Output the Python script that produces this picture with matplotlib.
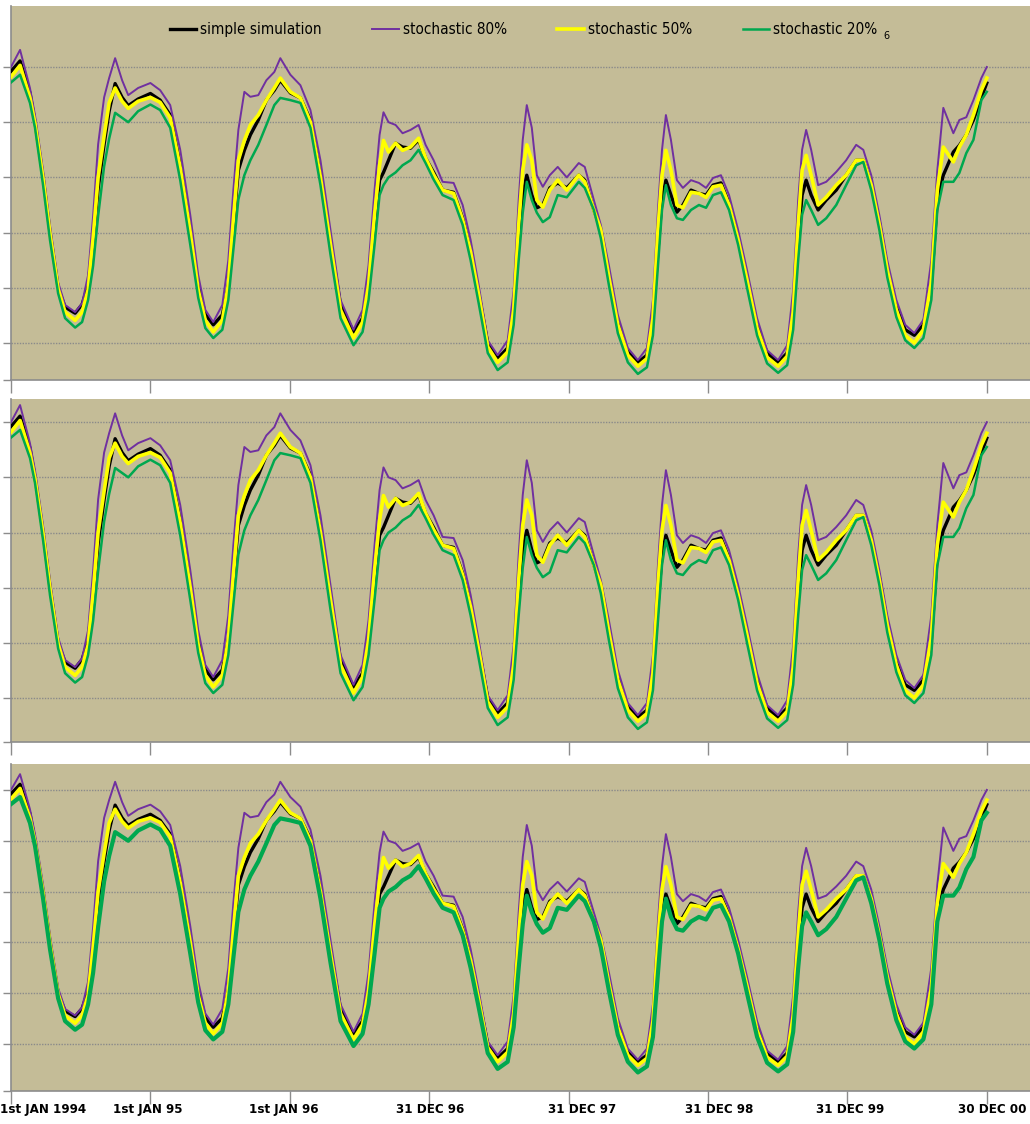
import matplotlib.pyplot as plt
import numpy as np

# time axis: years since 1 Jan 1994
t = [0.000, 0.065, 0.136, 0.172, 0.230, 0.280, 0.338, 0.388, 0.460, 0.510,
     0.553, 0.589, 0.625, 0.668, 0.704, 0.747, 0.797, 0.841, 0.912, 1.000,
     1.070, 1.142, 1.214, 1.286, 1.343, 1.394, 1.451, 1.516, 1.559, 1.595,
     1.631, 1.674, 1.717, 1.774, 1.832, 1.889, 1.932, 2.004,
     2.076, 2.148, 2.220, 2.292, 2.364, 2.457, 2.522, 2.565, 2.608, 2.644,
     2.672, 2.708, 2.759, 2.809, 2.866, 2.924, 2.974, 3.032,
     3.096, 3.175, 3.240, 3.297, 3.355, 3.420, 3.491, 3.563, 3.606, 3.642,
     3.671, 3.700, 3.736, 3.772, 3.815, 3.865, 3.922, 3.987,
     4.073, 4.116, 4.181, 4.231, 4.289, 4.353, 4.425, 4.497, 4.562, 4.605,
     4.641, 4.670, 4.698, 4.734, 4.777, 4.820, 4.878, 4.935, 4.986, 5.036,
     5.093, 5.151, 5.216, 5.280, 5.352, 5.424, 5.503, 5.568, 5.611, 5.647,
     5.675, 5.704, 5.740, 5.790, 5.848, 5.920, 5.991, 6.063, 6.114,
     6.171, 6.229, 6.286, 6.351, 6.415, 6.480, 6.545, 6.602, 6.645, 6.688,
     6.760, 6.803, 6.853, 6.904, 6.961, 7.000]

simple = [5.92, 6.11, 5.53, 5.00, 4.00, 3.00, 2.00, 1.65, 1.54, 1.70,
          2.05, 2.85, 3.80, 4.60, 5.20, 5.70, 5.45, 5.30, 5.42, 5.52,
          5.40, 5.13, 4.22, 3.05, 2.05, 1.52, 1.33, 1.51, 2.05, 3.14,
          4.13, 4.49, 4.77, 5.04, 5.40, 5.58, 5.76, 5.53,
          5.44, 5.04, 4.04, 2.83, 1.69, 1.20, 1.45, 2.05, 3.14, 3.95,
          4.09, 4.31, 4.62, 4.55, 4.53, 4.68, 4.35, 4.09,
          3.77, 3.73, 3.26, 2.68, 1.90, 1.00, 0.72, 0.91, 1.60, 2.87,
          3.68, 4.04, 3.68, 3.45, 3.50, 3.81, 3.90, 3.81,
          4.04, 3.95, 3.41, 3.05, 2.23, 1.38, 0.84, 0.65, 0.78, 1.42,
          2.68, 3.59, 3.95, 3.68, 3.37, 3.50, 3.77, 3.71, 3.68, 3.86,
          3.90, 3.53, 2.90, 2.17, 1.33, 0.82, 0.65, 0.82, 1.51, 2.87,
          3.68, 3.95, 3.68, 3.41, 3.59, 3.77, 4.04, 4.31, 4.31,
          3.86, 3.19, 2.35, 1.65, 1.24, 1.14, 1.33, 2.05, 3.59, 4.04,
          4.46, 4.58, 4.77, 5.04, 5.45, 5.71]

stoch80 = [6.00, 6.31, 5.62, 5.13, 4.13, 3.13, 2.10, 1.69, 1.56, 1.72,
           2.23, 3.30, 4.60, 5.45, 5.80, 6.16, 5.76, 5.49, 5.62, 5.71,
           5.58, 5.31, 4.50, 3.32, 2.23, 1.60, 1.38, 1.69, 2.50, 3.77,
           4.86, 5.55, 5.46, 5.49, 5.76, 5.91, 6.16, 5.86,
           5.67, 5.22, 4.31, 3.05, 1.78, 1.24, 1.60, 2.41, 3.77, 4.77,
           5.18, 5.00, 4.95, 4.80, 4.86, 4.95, 4.59, 4.31,
           3.92, 3.90, 3.50, 2.87, 2.05, 1.05, 0.78, 1.05, 1.96, 3.59,
           4.68, 5.31, 4.90, 4.04, 3.83, 4.04, 4.19, 4.00,
           4.26, 4.19, 3.59, 3.14, 2.41, 1.51, 0.91, 0.69, 0.91, 1.78,
           3.41, 4.50, 5.13, 4.68, 3.95, 3.81, 3.95, 3.90, 3.81, 3.99,
           4.04, 3.68, 3.05, 2.32, 1.45, 0.87, 0.69, 0.96, 1.96, 3.59,
           4.50, 4.86, 4.50, 3.86, 3.92, 4.10, 4.31, 4.59, 4.50,
           4.04, 3.32, 2.50, 1.78, 1.33, 1.18, 1.42, 2.50, 4.13, 5.26,
           4.80, 5.04, 5.09, 5.40, 5.80, 6.00]

stoch50 = [5.82, 6.03, 5.44, 4.98, 3.98, 2.98, 1.98, 1.56, 1.41, 1.56,
           1.96, 2.90, 4.00, 4.75, 5.35, 5.62, 5.38, 5.25, 5.38, 5.45,
           5.36, 5.08, 4.17, 3.00, 1.96, 1.41, 1.20, 1.41, 2.05, 3.23,
           4.31, 4.67, 4.95, 5.13, 5.40, 5.62, 5.80, 5.55,
           5.44, 5.00, 4.00, 2.78, 1.60, 1.09, 1.38, 2.05, 3.32, 4.22,
           4.67, 4.46, 4.62, 4.49, 4.55, 4.71, 4.35, 4.05,
           3.77, 3.71, 3.23, 2.65, 1.87, 0.93, 0.65, 0.84, 1.60, 3.14,
           4.13, 4.59, 4.31, 3.59, 3.46, 3.77, 3.95, 3.77,
           4.04, 3.92, 3.41, 3.05, 2.19, 1.33, 0.78, 0.58, 0.72, 1.45,
           3.05, 4.04, 4.49, 4.13, 3.50, 3.45, 3.73, 3.71, 3.64, 3.83,
           3.86, 3.50, 2.87, 2.14, 1.27, 0.74, 0.58, 0.76, 1.56, 3.14,
           4.13, 4.40, 4.04, 3.50, 3.64, 3.86, 4.04, 4.31, 4.31,
           3.86, 3.14, 2.32, 1.60, 1.14, 1.00, 1.24, 2.10, 3.77, 4.55,
           4.28, 4.55, 4.77, 5.13, 5.58, 5.80]

stoch20 = [5.72, 5.86, 5.35, 4.90, 3.86, 2.86, 1.90, 1.45, 1.28, 1.38,
           1.78, 2.40, 3.30, 4.20, 4.70, 5.17, 5.08, 5.00, 5.20, 5.32,
           5.22, 4.90, 3.95, 2.78, 1.82, 1.27, 1.09, 1.24, 1.78, 2.68,
           3.60, 4.04, 4.31, 4.59, 4.95, 5.31, 5.44, 5.40,
           5.35, 4.90, 3.86, 2.60, 1.45, 0.96, 1.20, 1.78, 2.78, 3.68,
           3.86, 4.00, 4.09, 4.22, 4.31, 4.50, 4.26, 3.96,
           3.68, 3.59, 3.14, 2.50, 1.72, 0.82, 0.51, 0.65, 1.33, 2.50,
           3.36, 3.92, 3.59, 3.36, 3.19, 3.28, 3.68, 3.64,
           3.92, 3.81, 3.41, 2.90, 2.05, 1.18, 0.65, 0.44, 0.56, 1.14,
           2.41, 3.41, 3.86, 3.50, 3.26, 3.23, 3.41, 3.50, 3.45, 3.68,
           3.73, 3.41, 2.78, 2.00, 1.14, 0.63, 0.46, 0.60, 1.24, 2.50,
           3.32, 3.59, 3.41, 3.14, 3.26, 3.50, 3.86, 4.22, 4.28,
           3.77, 3.05, 2.19, 1.47, 1.05, 0.91, 1.09, 1.78, 3.41, 3.92,
           3.92, 4.08, 4.44, 4.68, 5.40, 5.55]

tick_years = [0, 1, 2, 3, 4, 5, 6, 7]
tick_labels = ['1st JAN 1994', '1st JAN 95', '1st JAN 96', '31 DEC 96',
               '31 DEC 97', '31 DEC 98', '31 DEC 99', '30 DEC 00']
label_pos = [0.23, 0.98, 1.96, 3.01, 4.10, 5.08, 6.02, 7.04]
grid_vals = [1, 2, 3, 4, 5, 6]

W, H = 1030, 1124
bg = '#C4BC97'
axis_col = '#8C8C8C'

fig = plt.figure(figsize=(W / 100, H / 100), dpi=100)

# panel boxes (top px, bottom px), y-limits, green width
panels = [(6, 380, (0.33, 7.105), 1.8),
          (399, 742, (0.203, 6.42), 1.8),
          (764, 1091, (0.075, 6.51), 3.0)]

axes = []
for top, bot, ylim, g_lw in panels:
    ax = fig.add_axes([11 / W, 1 - bot / H, (W - 11) / W, (bot - top) / H])
    ax.set_facecolor(bg)
    ax.plot(t, simple, color='black', lw=2.4, label='simple simulation', zorder=3)
    ax.plot(t, stoch80, color='#7030A0', lw=1.4, label='stochastic 80%', zorder=4)
    ax.plot(t, stoch50, color='#FFFF00', lw=2.6, label='stochastic 50%', zorder=5)
    ax.plot(t, stoch20, color='#00A84F', lw=g_lw, label='stochastic 20%', zorder=6)
    ax.set_xlim(0, (W - 11) / 139.4)
    ax.set_ylim(*ylim)
    ax.set_yticks([ylim[0]] + grid_vals)
    ax.set_yticklabels([])
    for v in grid_vals:
        ax.axhline(v, color='#8A8A8A', lw=1.0, ls=(0, (1, 1)), zorder=1)
    ax.set_xticks(tick_years)
    ax.set_xticklabels([])
    ax.tick_params(axis='x', length=9, color=axis_col, width=1)
    ax.tick_params(axis='y', length=6, color=axis_col, width=1)
    for s in ['top', 'right']:
        ax.spines[s].set_visible(False)
    for s in ['left', 'bottom']:
        ax.spines[s].set_color(axis_col)
        ax.spines[s].set_linewidth(1.2)
    axes.append(ax)

# bottom labels
for x, lab in zip(label_pos, tick_labels):
    axes[2].text(x, -0.058, lab, transform=axes[2].get_xaxis_transform(),
                 ha='center', va='center', fontsize=9.5, fontweight='bold',
                 family='DejaVu Sans', fontstretch='condensed', clip_on=False)

# legend on top panel
leg = axes[0].legend(loc='center', bbox_to_anchor=(0.503, 0.936), ncol=4,
                     frameon=False, handlelength=1.75, handletextpad=0.25,
                     columnspacing=3.3,
                     prop={'family': 'DejaVu Sans', 'stretch': 'condensed', 'size': 11})
fig.text(886 / W, 1 - 36 / H, '6', fontsize=7, family='DejaVu Sans',
         ha='center', va='center')

fig.savefig('out.png', dpi=100)
